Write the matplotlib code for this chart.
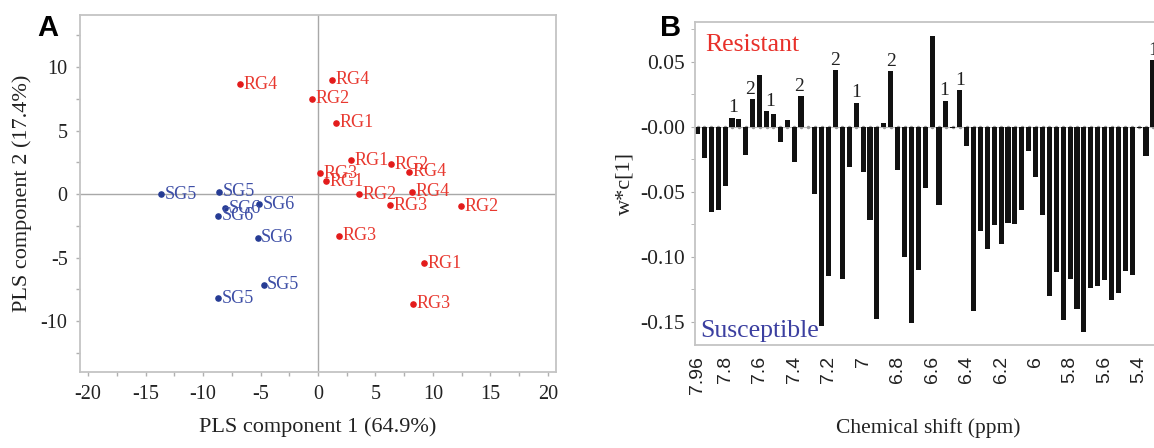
import numpy as np
import matplotlib
matplotlib.use("Agg")
from matplotlib import pyplot as plt
from matplotlib.ticker import MultipleLocator, FixedLocator, FixedFormatter

plt.rcParams['axes.unicode_minus'] = False
SERIF = 'Liberation Serif'

# ---- panel A: PLS scores ----
rg_names = ['RG4', 'RG4', 'RG2', 'RG1', 'RG1', 'RG2', 'RG4', 'RG3',
            'RG1', 'RG2', 'RG4', 'RG3', 'RG2', 'RG3', 'RG1', 'RG3']
rg_x = [-6.8, 1.25, -0.55, 1.6, 2.88, 6.38, 7.89, 0.17,
        0.67, 3.55, 8.18, 6.23, 12.4, 1.86, 9.2, 8.27]
rg_y = [8.65, 9.0, 7.5, 5.6, 2.67, 2.35, 1.75, 1.66,
        1.0, 0.0, 0.18, -0.86, -0.94, -3.27, -5.44, -8.63]

sg_names = ['SG5', 'SG5', 'SG6', 'SG6', 'SG6', 'SG6', 'SG5', 'SG5']
sg_x = [-13.65, -8.62, -8.06, -5.12, -8.67, -5.24, -4.72, -8.67]
sg_y = [0.0, 0.18, -1.13, -0.81, -1.70, -3.43, -7.14, -8.18]

# ---- panel B: loadings w*c[1] per 0.04 ppm bin ----
shift_start = 7.96
bin_width = 0.04
wc1 = [-0.006, -0.024, -0.066, -0.064, -0.046, 0.007, 0.006, -0.022,
       0.021, 0.040, 0.012, 0.0095, -0.012, 0.005, -0.027, 0.0235,
       0.0, -0.052, -0.153, -0.115, 0.0435, -0.117, -0.031, 0.0185,
       -0.035, -0.072, -0.148, 0.003, 0.043, -0.033, -0.100, -0.151,
       -0.110, -0.047, 0.070, -0.060, 0.020, -0.001, 0.028, -0.015,
       -0.142, -0.080, -0.094, -0.076, -0.090, -0.074, -0.075, -0.064,
       -0.019, -0.0385, -0.068, -0.130, -0.112, -0.149, -0.117, -0.140,
       -0.158, -0.124, -0.1226, -0.118, -0.133, -0.128, -0.111, -0.114,
       -0.001, -0.0226, 0.051]
peak_bins = [5.2, 7.6, 10.5, 14.7, 20, 23, 28, 35.8, 38, 66]
peak_text = ['1', '2', '1', '2', '2', '1', '2', '1', '1', '1']
xtick_vals = [7.96, 7.8, 7.6, 7.4, 7.2, 7.0, 6.8, 6.6, 6.4, 6.2, 6.0, 5.8, 5.6, 5.4]
xtick_text = ['7.96', '7.8', '7.6', '7.4', '7.2', '7', '6.8', '6.6', '6.4',
              '6.2', '6', '5.8', '5.6', '5.4']
ytick_vals = [0.05, 0.0, -0.05, -0.10, -0.15]
ytick_text = ['0.05', '-0.00', '-0.05', '-0.10', '-0.15']

W, H = 1154, 448
fig = plt.figure(figsize=(W / 100, H / 100), dpi=100)

spine_col = '#c4c4c4'
red_dot, red_txt = '#e31b1b', '#e8382f'
blue_dot, blue_txt = '#253b94', '#3d4ea6'

# ---------- A ----------
axA = fig.add_axes([80 / W, 1 - 372 / H, (556 - 80) / W, (372 - 15) / H])
axA.set_xlim(-20.7, 20.7)
axA.set_ylim(-14.0, 14.1)
axA.axhline(0, color='#a8a8a8', lw=1.0, zorder=1)
axA.axvline(0, color='#a8a8a8', lw=1.0, zorder=1)
axA.scatter(rg_x, rg_y, s=14, color=red_dot, zorder=3)
axA.scatter(sg_x, sg_y, s=14, color=blue_dot, zorder=3)
for n, x, y in zip(rg_names, rg_x, rg_y):
    axA.annotate(n, (x, y), xytext=(2.5, 0), textcoords='offset points',
                 ha='left', va='center', fontsize=13, family=SERIF, color=red_txt)
for n, x, y in zip(sg_names, sg_x, sg_y):
    axA.annotate(n, (x, y), xytext=(2.5, 0), textcoords='offset points',
                 ha='left', va='center', fontsize=13, family=SERIF, color=blue_txt)
axA.xaxis.set_major_locator(MultipleLocator(5))
axA.xaxis.set_minor_locator(MultipleLocator(2.5))
axA.yaxis.set_major_locator(MultipleLocator(5))
axA.yaxis.set_minor_locator(MultipleLocator(2.5))
axA.tick_params(which='both', direction='out', length=3, color='#b0b0b0', width=1)
axA.tick_params(labelsize=14.5, labelcolor='#222222', pad=6)
for lab in axA.get_xticklabels() + axA.get_yticklabels():
    lab.set_family(SERIF)
for sp in axA.spines.values():
    sp.set_color(spine_col)
    sp.set_linewidth(1.3)
axA.set_xlabel('PLS component 1 (64.9%)', family=SERIF, fontsize=16, color='#222222', labelpad=10)
axA.set_ylabel('PLS component 2 (17.4%)', family=SERIF, fontsize=16, color='#222222', labelpad=6)

# ---------- B ----------
px_per_ppm = 172.5
x_left = shift_start + 2.5 / px_per_ppm
x_right = shift_start - (1160 - 697.5) / px_per_ppm
axB = fig.add_axes([695 / W, 1 - 345 / H, (1160 - 695) / W, (345 - 22) / H])
shifts = shift_start - bin_width * np.arange(len(wc1))
axB.set_xlim(x_left, x_right)
axB.set_ylim(-0.168, 0.0805)
axB.axhline(0, color='#bdbdbd', lw=0.8, zorder=1)
axB.plot(shifts, np.zeros(len(shifts)), ls='none', marker='o', ms=1.5,
         color='#9a9a9a', zorder=1)
axB.bar(shifts, wc1, width=bin_width * 0.74, color='#111111', zorder=2)
for b, t in zip(peak_bins, peak_text):
    i0 = int(np.floor(b))
    i1 = min(int(np.ceil(b)), len(wc1) - 1)
    top = max(wc1[i0], wc1[i1])
    axB.text(shift_start - bin_width * b, top + 0.004, t, ha='center', va='baseline',
             fontsize=14, family=SERIF, color='#222222')
axB.text(0.022, 0.91, 'Resistant', transform=axB.transAxes, fontsize=18.5,
         family=SERIF, color='#e8302a', va='baseline')
axB.text(0.011, 0.026, 'Susceptible', transform=axB.transAxes, fontsize=18.5,
         family=SERIF, color='#3b3fa0', va='baseline')
axB.xaxis.set_major_locator(FixedLocator(xtick_vals))
axB.xaxis.set_major_formatter(FixedFormatter(xtick_text))
axB.yaxis.set_major_locator(FixedLocator(ytick_vals))
axB.yaxis.set_major_formatter(FixedFormatter(ytick_text))
axB.yaxis.set_minor_locator(MultipleLocator(0.025))
axB.tick_params(axis='x', length=0, pad=8, labelsize=14, labelrotation=90, labelcolor='#222222')
axB.tick_params(axis='y', which='both', direction='out', length=3, color='#b0b0b0',
                labelsize=15.5, labelcolor='#222222', pad=4)
for lab in axB.get_xticklabels():
    lab.set_family('Liberation Sans')
for lab in axB.get_yticklabels():
    lab.set_family(SERIF)
for sp in axB.spines.values():
    sp.set_color(spine_col)
    sp.set_linewidth(1.3)
axB.set_xlabel('Chemical shift (ppm)', family=SERIF, fontsize=15.5, color='#222222', labelpad=12)
axB.set_ylabel('w*c[1]', family=SERIF, fontsize=16, color='#222222', labelpad=4)
axB.xaxis.set_label_coords((928 - 695) / (1160 - 695), -(418 - 345) / (345 - 22))

fig.text(48 / W, 1 - 28 / H, 'A', fontsize=21, fontweight='bold', family='Liberation Sans',
         ha='center', va='center')
fig.text(671 / W, 1 - 28 / H, 'B', fontsize=21, fontweight='bold', family='Liberation Sans',
         ha='center', va='center')

fig.savefig('out.png', dpi=100)
